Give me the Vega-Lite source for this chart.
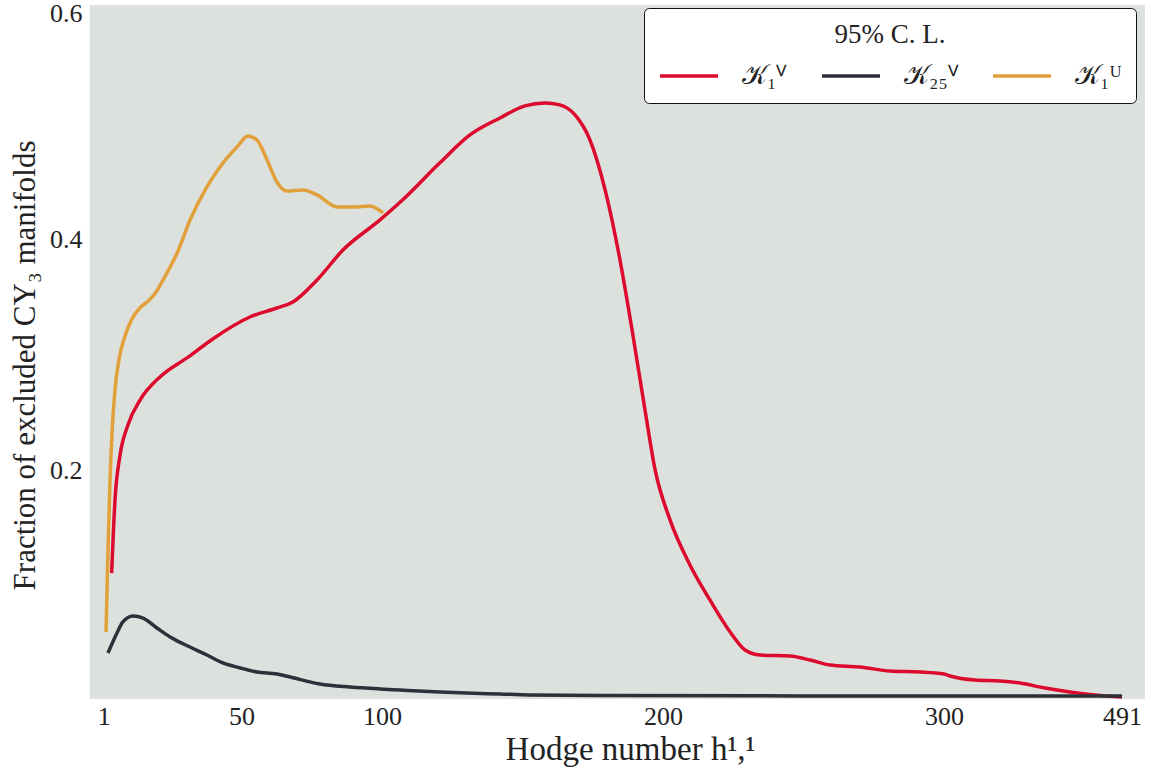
{
  "$schema": "https://vega.github.io/schema/vega-lite/v6.json",
  "autosize": "none",
  "padding": {"left": 90, "top": 5, "right": 8, "bottom": 75},
  "width": 1055,
  "height": 694,
  "background": "white",
  "config": {
    "view": {"fill": "#dde1de", "stroke": null},
    "font": "Liberation Serif",
    "axis": {"domain": false, "ticks": false, "grid": false, "labelFont": "Liberation Serif", "titleFont": "Liberation Serif", "labelFontSize": 26, "titleFontSize": 31, "labelColor": "#222222", "titleColor": "#222222", "titleFontWeight": "normal"}
  },
  "data": {"values": [
    {"h": 3.8, "f": 0.111, "s": "𝒦₁ⱽ"},
    {"h": 5.0, "f": 0.1744, "s": "𝒦₁ⱽ"},
    {"h": 6.8, "f": 0.2133, "s": "𝒦₁ⱽ"},
    {"h": 9.6, "f": 0.2393, "s": "𝒦₁ⱽ"},
    {"h": 13.9, "f": 0.2609, "s": "𝒦₁ⱽ"},
    {"h": 21.0, "f": 0.2809, "s": "𝒦₁ⱽ"},
    {"h": 31.0, "f": 0.2980, "s": "𝒦₁ⱽ"},
    {"h": 39.9, "f": 0.3140, "s": "𝒦₁ⱽ"},
    {"h": 53.0, "f": 0.3328, "s": "𝒦₁ⱽ"},
    {"h": 62.6, "f": 0.3406, "s": "𝒦₁ⱽ"},
    {"h": 68.3, "f": 0.3458, "s": "𝒦₁ⱽ"},
    {"h": 76.9, "f": 0.3649, "s": "𝒦₁ⱽ"},
    {"h": 86.1, "f": 0.3908, "s": "𝒦₁ⱽ"},
    {"h": 99.3, "f": 0.4169, "s": "𝒦₁ⱽ"},
    {"h": 107.4, "f": 0.4343, "s": "𝒦₁ⱽ"},
    {"h": 120.6, "f": 0.4663, "s": "𝒦₁ⱽ"},
    {"h": 131.3, "f": 0.4905, "s": "𝒦₁ⱽ"},
    {"h": 142.0, "f": 0.5052, "s": "𝒦₁ⱽ"},
    {"h": 150.9, "f": 0.5156, "s": "𝒦₁ⱽ"},
    {"h": 158.0, "f": 0.5182, "s": "𝒦₁ⱽ"},
    {"h": 163.3, "f": 0.5165, "s": "𝒦₁ⱽ"},
    {"h": 168.7, "f": 0.5078, "s": "𝒦₁ⱽ"},
    {"h": 174.0, "f": 0.4862, "s": "𝒦₁ⱽ"},
    {"h": 179.4, "f": 0.4429, "s": "𝒦₁ⱽ"},
    {"h": 184.7, "f": 0.3822, "s": "𝒦₁ⱽ"},
    {"h": 189.0, "f": 0.3216, "s": "𝒦₁ⱽ"},
    {"h": 193.6, "f": 0.2523, "s": "𝒦₁ⱽ"},
    {"h": 197.2, "f": 0.2004, "s": "𝒦₁ⱽ"},
    {"h": 202.5, "f": 0.1571, "s": "𝒦₁ⱽ"},
    {"h": 209.6, "f": 0.1181, "s": "𝒦₁ⱽ"},
    {"h": 216.7, "f": 0.0878, "s": "𝒦₁ⱽ"},
    {"h": 223.9, "f": 0.06, "s": "𝒦₁ⱽ"},
    {"h": 229.2, "f": 0.0444, "s": "𝒦₁ⱽ"},
    {"h": 234.5, "f": 0.0401, "s": "𝒦₁ⱽ"},
    {"h": 245.2, "f": 0.0392, "s": "𝒦₁ⱽ"},
    {"h": 252.3, "f": 0.0358, "s": "𝒦₁ⱽ"},
    {"h": 259.4, "f": 0.0314, "s": "𝒦₁ⱽ"},
    {"h": 270.1, "f": 0.0297, "s": "𝒦₁ⱽ"},
    {"h": 280.8, "f": 0.0262, "s": "𝒦₁ⱽ"},
    {"h": 291.4, "f": 0.0254, "s": "𝒦₁ⱽ"},
    {"h": 300.0, "f": 0.0236, "s": "𝒦₁ⱽ"},
    {"h": 306.4, "f": 0.0219, "s": "𝒦₁ⱽ"},
    {"h": 333.3, "f": 0.0184, "s": "𝒦₁ⱽ"},
    {"h": 360.1, "f": 0.0176, "s": "𝒦₁ⱽ"},
    {"h": 381.5, "f": 0.0158, "s": "𝒦₁ⱽ"},
    {"h": 408.4, "f": 0.0115, "s": "𝒦₁ⱽ"},
    {"h": 435.2, "f": 0.0081, "s": "𝒦₁ⱽ"},
    {"h": 462.0, "f": 0.0055, "s": "𝒦₁ⱽ"},
    {"h": 491.0, "f": 0.0037, "s": "𝒦₁ⱽ"},

    {"h": 2.5, "f": 0.0418, "s": "𝒦₂₅ⱽ"},
    {"h": 5.7, "f": 0.0592, "s": "𝒦₂₅ⱽ"},
    {"h": 7.8, "f": 0.0687, "s": "𝒦₂₅ⱽ"},
    {"h": 11.4, "f": 0.0739, "s": "𝒦₂₅ⱽ"},
    {"h": 15.0, "f": 0.0721, "s": "𝒦₂₅ⱽ"},
    {"h": 19.9, "f": 0.0635, "s": "𝒦₂₅ⱽ"},
    {"h": 24.6, "f": 0.0557, "s": "𝒦₂₅ⱽ"},
    {"h": 31.7, "f": 0.047, "s": "𝒦₂₅ⱽ"},
    {"h": 37.7, "f": 0.0401, "s": "𝒦₂₅ⱽ"},
    {"h": 43.4, "f": 0.0332, "s": "𝒦₂₅ⱽ"},
    {"h": 49.5, "f": 0.0289, "s": "𝒦₂₅ⱽ"},
    {"h": 55.5, "f": 0.0254, "s": "𝒦₂₅ⱽ"},
    {"h": 62.6, "f": 0.0236, "s": "𝒦₂₅ⱽ"},
    {"h": 67.3, "f": 0.021, "s": "𝒦₂₅ⱽ"},
    {"h": 77.9, "f": 0.015, "s": "𝒦₂₅ⱽ"},
    {"h": 88.6, "f": 0.0124, "s": "𝒦₂₅ⱽ"},
    {"h": 99.3, "f": 0.0107, "s": "𝒦₂₅ⱽ"},
    {"h": 106.4, "f": 0.0098, "s": "𝒦₂₅ⱽ"},
    {"h": 120.6, "f": 0.0081, "s": "𝒦₂₅ⱽ"},
    {"h": 142.0, "f": 0.0063, "s": "𝒦₂₅ⱽ"},
    {"h": 152.7, "f": 0.0055, "s": "𝒦₂₅ⱽ"},
    {"h": 177.6, "f": 0.005, "s": "𝒦₂₅ⱽ"},
    {"h": 300.0, "f": 0.0046, "s": "𝒦₂₅ⱽ"},
    {"h": 491.0, "f": 0.0046, "s": "𝒦₂₅ⱽ"},

    {"h": 1.8, "f": 0.06, "s": "𝒦₁ᵁ"},
    {"h": 2.5, "f": 0.13, "s": "𝒦₁ᵁ"},
    {"h": 3.2, "f": 0.19, "s": "𝒦₁ᵁ"},
    {"h": 4.0, "f": 0.235, "s": "𝒦₁ᵁ"},
    {"h": 5.0, "f": 0.27, "s": "𝒦₁ᵁ"},
    {"h": 6.5, "f": 0.297, "s": "𝒦₁ᵁ"},
    {"h": 8.5, "f": 0.316, "s": "𝒦₁ᵁ"},
    {"h": 11.0, "f": 0.331, "s": "𝒦₁ᵁ"},
    {"h": 14.0, "f": 0.341, "s": "𝒦₁ᵁ"},
    {"h": 17.0, "f": 0.347, "s": "𝒦₁ᵁ"},
    {"h": 19.5, "f": 0.354, "s": "𝒦₁ᵁ"},
    {"h": 22.1, "f": 0.3650, "s": "𝒦₁ᵁ"},
    {"h": 27.1, "f": 0.3882, "s": "𝒦₁ᵁ"},
    {"h": 31.7, "f": 0.4168, "s": "𝒦₁ᵁ"},
    {"h": 37.7, "f": 0.4454, "s": "𝒦₁ᵁ"},
    {"h": 43.4, "f": 0.4662, "s": "𝒦₁ᵁ"},
    {"h": 48.4, "f": 0.48, "s": "𝒦₁ᵁ"},
    {"h": 52.3, "f": 0.4896, "s": "𝒦₁ᵁ"},
    {"h": 55.5, "f": 0.4861, "s": "𝒦₁ᵁ"},
    {"h": 59.1, "f": 0.4688, "s": "𝒦₁ᵁ"},
    {"h": 62.6, "f": 0.4497, "s": "𝒦₁ᵁ"},
    {"h": 66.2, "f": 0.4419, "s": "𝒦₁ᵁ"},
    {"h": 71.9, "f": 0.4428, "s": "𝒦₁ᵁ"},
    {"h": 76.9, "f": 0.4385, "s": "𝒦₁ᵁ"},
    {"h": 84.0, "f": 0.4281, "s": "𝒦₁ᵁ"},
    {"h": 89.7, "f": 0.4281, "s": "𝒦₁ᵁ"},
    {"h": 95.7, "f": 0.429, "s": "𝒦₁ᵁ"},
    {"h": 100.4, "f": 0.4229, "s": "𝒦₁ᵁ"}
  ]},
  "mark": {"type": "line", "strokeWidth": 3.5, "interpolate": "monotone", "clip": true},
  "encoding": {
    "x": {
      "field": "h", "type": "quantitative",
      "scale": {"domain": [-3.9, 300, 515.7], "range": [0, 854, 1055], "nice": false, "zero": false},
      "axis": {"values": [1, 50, 100, 200, 300, 491], "title": "Hodge number h¹,¹", "titleFontSize": 33, "labelPadding": 4, "titlePadding": 4, "titleX": 540}
    },
    "y": {
      "field": "f", "type": "quantitative",
      "scale": {"domain": [0.002, 0.603], "nice": false, "zero": false},
      "axis": {"values": [0.2, 0.4, 0.6], "format": ".1f", "title": "Fraction of excluded CY₃ manifolds", "labelPadding": 8, "titlePadding": 8, "titleY": 360,
        "labelOffset": {"condition": {"test": "datum.value > 0.55", "value": 5}, "value": 0}}
    },
    "color": {
      "field": "s", "type": "nominal",
      "scale": {"domain": ["𝒦₁ⱽ", "𝒦₂₅ⱽ", "𝒦₁ᵁ"], "range": ["#dc0a2d", "#2b3039", "#e1a039"]},
      "legend": {
        "title": "95% C. L.",
        "orient": "none", "legendX": 554, "legendY": 3,
        "direction": "horizontal", "columns": 3,
        "titleAnchor": "middle", "titleFont": "Liberation Serif", "titleFontSize": 27, "titleFontWeight": "normal", "titleColor": "#222222", "titlePadding": -4,
        "labelFont": "Liberation Serif", "labelFontSize": 27, "labelColor": "#222222", "labelOffset": 22,
        "symbolType": "stroke", "symbolSize": 3364, "symbolStrokeWidth": 3.5,
        "columnPadding": 27,
        "fillColor": "white", "strokeColor": "#111111", "cornerRadius": 5, "padding": 14
      }
    }
  }
}
